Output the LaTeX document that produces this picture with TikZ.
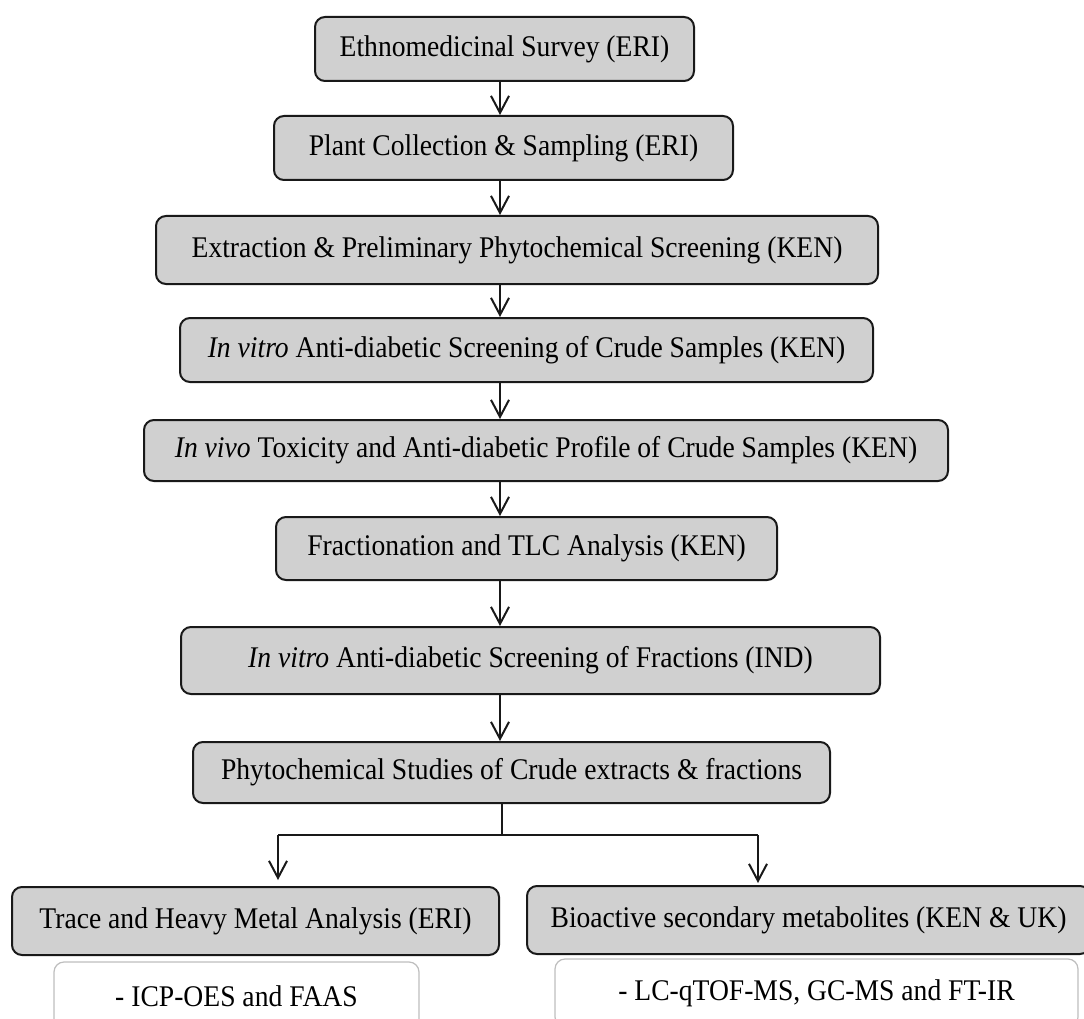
\documentclass[tikz,border=0pt]{standalone}
\usepackage{fontspec}
\setmainfont[FakeStretch=0.92]{Liberation Serif}
\usetikzlibrary{arrows.meta}
\definecolor{boxgray}{RGB}{208,208,208}
\definecolor{edgegray}{RGB}{190,190,190}
\definecolor{linedark}{RGB}{25,25,25}
\tikzset{
  stepbox/.style={draw=linedark, line width=2pt, fill=boxgray, rounded corners=10pt,
    inner sep=0pt, align=center, font=\fontsize{30}{34}\selectfont},
  subbox/.style={draw=edgegray, line width=1.2pt, fill=white, rounded corners=10pt,
    inner sep=0pt, align=center, font=\fontsize{30}{34}\selectfont},
  conn/.style={draw=linedark, line width=2pt},
  arr/.style={conn, -{Straight Barb[length=17pt,width=18pt,line width=2pt]}},
}
\begin{document}
\begin{tikzpicture}[x=1pt,y=-1pt]
\useasboundingbox (0,0) rectangle (1084,1019);
\node[stepbox, minimum width=379pt, minimum height=64pt] (b1) at (504.5,49) {Ethnomedicinal Survey (ERI)};
\node[stepbox, minimum width=459pt, minimum height=64pt] (b2) at (503.5,148) {Plant Collection \& Sampling (ERI)};
\node[stepbox, minimum width=722pt, minimum height=68pt] (b3) at (517,250) {Extraction \& Preliminary Phytochemical Screening (KEN)};
\node[stepbox, minimum width=693pt, minimum height=64pt] (b4) at (526.5,350) {\textit{In vitro} Anti-diabetic Screening of Crude Samples (KEN)};
\node[stepbox, minimum width=804pt, minimum height=61pt] (b5) at (546,450.5) {\textit{In vivo} Toxicity and Anti-diabetic Profile of Crude Samples (KEN)};
\node[stepbox, minimum width=501pt, minimum height=63pt] (b6) at (526.5,548.5) {Fractionation and TLC Analysis (KEN)};
\node[stepbox, minimum width=699pt, minimum height=67pt] (b7) at (530.5,660.5) {\textit{In vitro} Anti-diabetic Screening of Fractions (IND)};
\node[stepbox, minimum width=637pt, minimum height=61pt] (b8) at (511.5,772.5) {Phytochemical Studies of Crude extracts \& fractions};
\node[stepbox, minimum width=487pt, minimum height=68pt] (b9l) at (255.5,921) {Trace and Heavy Metal Analysis (ERI)};
\node[stepbox, minimum width=563pt, minimum height=68pt] (b9r) at (808.5,920) {Bioactive secondary metabolites (KEN \& UK)};
\node[subbox, minimum width=365pt, minimum height=68pt] (s10l) at (236.5,996) {- ICP-OES and FAAS};
\node[subbox, minimum width=523pt, minimum height=68pt] (s10r) at (816.5,993) {- LC-qTOF-MS, GC-MS and FT-IR};
\coordinate (ax) at (500,0);
\draw[arr] (b1.south -| ax) -- (b2.north -| ax);
\draw[arr] (b2.south -| ax) -- (b3.north -| ax);
\draw[arr] (b3.south -| ax) -- (b4.north -| ax);
\draw[arr] (b4.south -| ax) -- (b5.north -| ax);
\draw[arr] (b5.south -| ax) -- (b6.north -| ax);
\draw[arr] (b6.south -| ax) -- (b7.north -| ax);
\draw[arr] (b7.south -| ax) -- (b8.north -| ax);
\coordinate (fork) at (502,835);
\coordinate (fl) at (278,835);
\coordinate (fr) at (758,835);
\draw[conn] (b8.south -| fork) -- (fork);
\draw[conn] (fl) -- (fr);
\draw[arr, shorten >=6pt] (fl) -- (fl |- b9l.north);
\draw[arr, shorten >=2pt] (fr) -- (fr |- b9r.north);
\end{tikzpicture}
\end{document}
